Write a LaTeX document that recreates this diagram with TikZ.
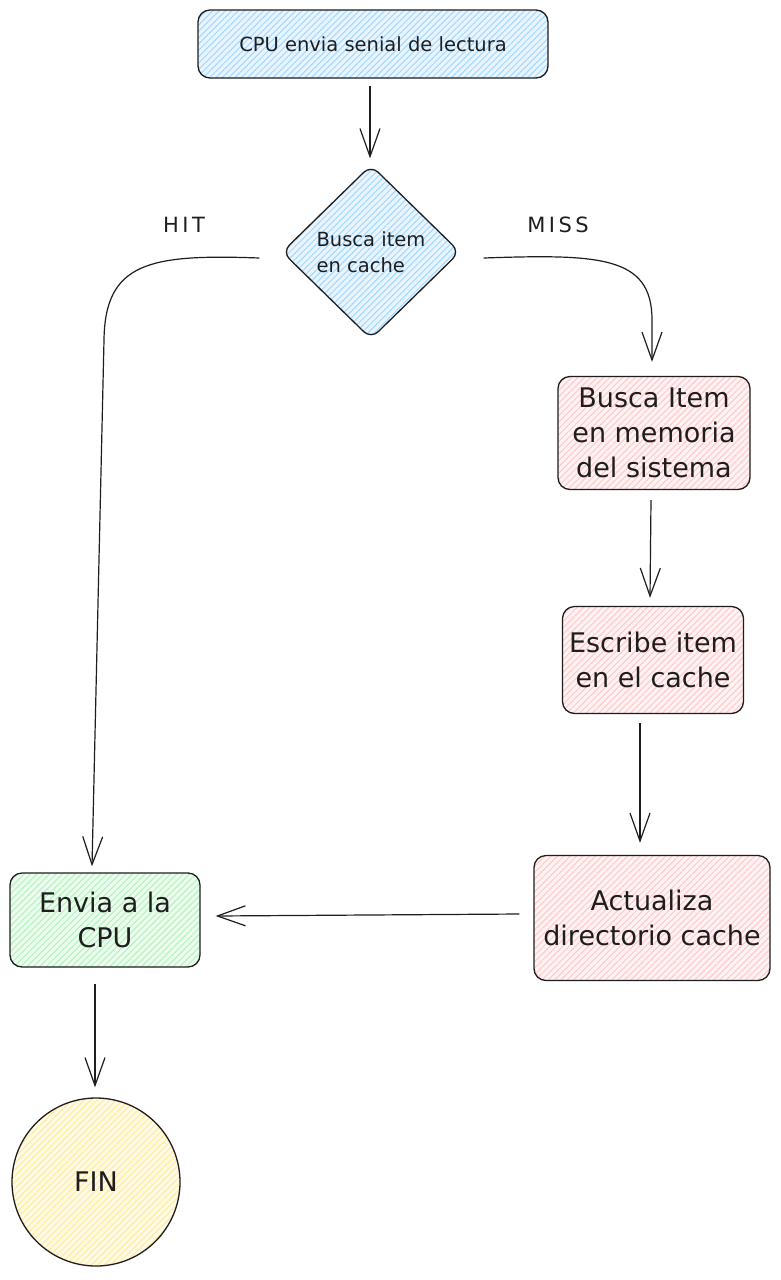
\documentclass[tikz,border=0pt]{standalone}
\usepackage{fontspec}
\setmainfont{DejaVu Sans}
\usetikzlibrary{arrows.meta,patterns.meta,shapes.geometric,calc}
\definecolor{ink}{HTML}{1E1E1E}
\definecolor{cblue}{HTML}{A5D8FF}
\definecolor{cpink}{HTML}{FFC9C9}
\definecolor{cgreen}{HTML}{B2F2BB}
\definecolor{cyellow}{HTML}{FFEC99}
\tikzset{
  hatch/.style={preaction={fill=#1!25}, pattern={Lines[angle=45,distance=4.5pt,line width=1pt]}, pattern color=#1},
  box/.style={draw=ink, line width=1.3pt, rounded corners=12pt, align=center, inner sep=0pt, text=ink},
  small/.style={font=\fontsize{19.5}{26}\selectfont},
  big/.style={font=\fontsize{27}{35}\selectfont},
  lbl/.style={text=ink, font=\fontsize{21}{24}\selectfont},
  arr/.style={draw=ink, line width=1.2pt, -{Straight Barb[length=28pt,width=20pt,line width=1.2pt]}},
}
\begin{document}
\begin{tikzpicture}[x=1pt,y=-1pt]
\fill[white] (0,0) rectangle (780,1280);
\useasboundingbox (0,0) rectangle (780,1280);

\node[box, hatch=cblue, small, minimum width=350pt, minimum height=68pt] (top) at (373,44) {CPU envia senial de lectura};
\node[box, hatch=cblue, small, diamond, rounded corners=10pt, minimum width=178pt, minimum height=174pt, align=left] (dia) at (371,252) {Busca item\\en cache};
\node[box, hatch=cpink, big, minimum width=192pt, minimum height=113pt] (busca) at (654,433) {Busca Item\\en memoria\\del sistema};
\node[box, hatch=cpink, big, minimum width=181pt, minimum height=107pt] (escribe) at (653,660) {Escribe item\\en el cache};
\node[box, hatch=cpink, big, minimum width=236pt, minimum height=125pt] (actual) at (652,918) {Actualiza\\directorio cache};
\node[box, hatch=cgreen, big, minimum width=190pt, minimum height=94pt] (envia) at (105,920) {Envia a la\\CPU};
\node[box, hatch=cyellow, big, circle, minimum size=168pt] (fin) at (96,1182) {FIN};

\node[lbl] (hit) at (184,225) {H\,I\,T};
\node[lbl] (miss) at (558,225) {M\,I\,S\,S};

\draw[arr] ($(top.south)+(-3,7)$) -- ($(dia.north)+(-1,-6)$);
\coordinate (hs) at ($(dia.west)+(-22,6)$);
\coordinate (he) at ($(envia.north)+(-13,-6)$);
\draw[arr] (hs) .. controls (150,254) and (105,262) .. (104,340) -- (he);
\coordinate (ms) at ($(dia.east)+(23,6)$);
\coordinate (me) at ($(busca.north)+(-2,-14)$);
\draw[arr] (ms) .. controls (600,254) and (652,256) .. (652,320) -- (me);
\draw[arr] ($(busca.south)+(-3,10)$) -- ($(escribe.north)+(-3,-8)$);
\draw[arr] ($(escribe.south)+(-13,9)$) -- ($(actual.north)+(-12,-12)$);
\draw[arr] ($(actual.west)+(-14,-4)$) -- ($(envia.east)+(15,-4)$);
\draw[arr] ($(envia.south)+(-10,16)$) -- ($(fin.north)+(-1,-10)$);
\end{tikzpicture}
\end{document}
